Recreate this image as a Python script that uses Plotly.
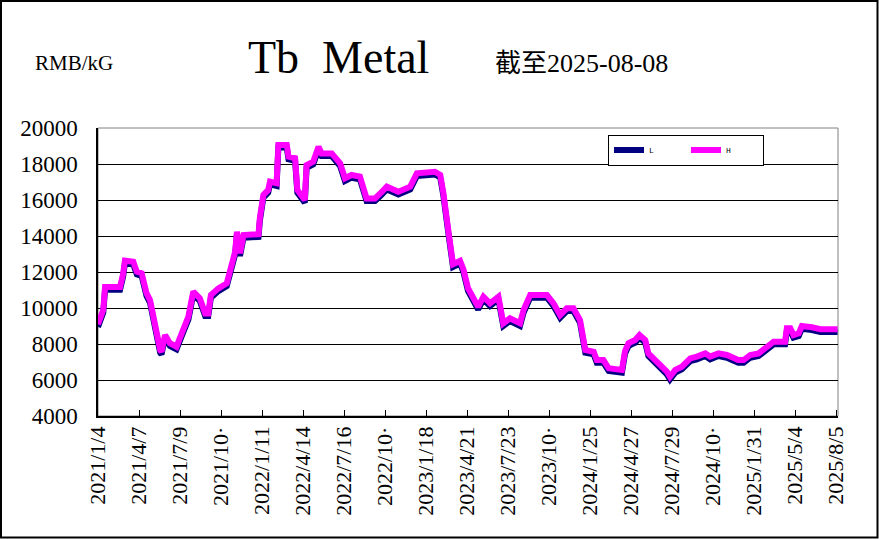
import plotly.graph_objects as go

dates = [
    "2021-01-04", "2021-01-08", "2021-01-16", "2021-01-20", "2021-02-23", "2021-03-02", "2021-03-06", "2021-03-25", "2021-04-02", "2021-04-13",
    "2021-04-24", "2021-05-02", "2021-05-09", "2021-05-17", "2021-05-25", "2021-05-28", "2021-06-05", "2021-06-16", "2021-07-01", "2021-07-16",
    "2021-07-28", "2021-08-08", "2021-08-23", "2021-09-04", "2021-09-11", "2021-09-17", "2021-10-04", "2021-10-23", "2021-10-30", "2021-11-11",
    "2021-11-15", "2021-11-22", "2021-11-30", "2022-01-03", "2022-01-06", "2022-01-14", "2022-01-25", "2022-01-29", "2022-02-13", "2022-02-17",
    "2022-03-08", "2022-03-12", "2022-03-27", "2022-04-01", "2022-04-18", "2022-04-22", "2022-05-07", "2022-05-19", "2022-05-26", "2022-06-18",
    "2022-07-07", "2022-07-18", "2022-08-02", "2022-08-21", "2022-09-05", "2022-09-24", "2022-10-06", "2022-10-21", "2022-11-16", "2022-11-28",
    "2022-12-13", "2022-12-28", "2023-02-07", "2023-02-19", "2023-02-26", "2023-03-10", "2023-03-20", "2023-04-05", "2023-04-13", "2023-04-23",
    "2023-05-05", "2023-05-16", "2023-05-28", "2023-06-12", "2023-07-01", "2023-07-12", "2023-07-27", "2023-08-19", "2023-08-27", "2023-09-11",
    "2023-10-19", "2023-11-03", "2023-11-18", "2023-12-03", "2023-12-18", "2024-01-02", "2024-01-14", "2024-02-02", "2024-02-09", "2024-02-24",
    "2024-03-07", "2024-04-06", "2024-04-13", "2024-04-21", "2024-04-28", "2024-05-06", "2024-05-16", "2024-05-29", "2024-06-05", "2024-06-20",
    "2024-07-06", "2024-07-17", "2024-07-24", "2024-08-05", "2024-08-20", "2024-09-08", "2024-09-23", "2024-10-12", "2024-10-23", "2024-11-11",
    "2024-11-30", "2024-12-26", "2025-01-07", "2025-01-22", "2025-02-10", "2025-03-01", "2025-03-16", "2025-04-11", "2025-04-15", "2025-04-23",
    "2025-04-30", "2025-05-12", "2025-05-19", "2025-06-11", "2025-06-30", "2025-08-08",
]

high = [
    9100, 9400, 9900, 11170, 11170, 11900, 12630, 12570, 12020, 11930,
    10820, 10440, 9520, 8780, 7670, 7570, 8500, 8040, 7850, 8780,
    9520, 10910, 10540, 9700, 9700, 10720, 11090, 11370, 12110, 13130,
    14240, 13040, 14050, 14100, 15000, 16280, 16560, 17020, 16930, 19060,
    19060, 18410, 18320, 16560, 16000, 17940, 18130, 18960, 18590, 18590,
    18040, 17210, 17390, 17300, 16090, 16090, 16370, 16740, 16460, 16560,
    16740, 17480, 17570, 17400, 16420, 14200, 12430, 12620, 12110, 11100,
    10630, 10070, 10630, 10260, 10630, 9150, 9430, 9150, 9890, 10720,
    10720, 10260, 9610, 9980, 9980, 9330, 7670, 7570, 7110, 7110,
    6650, 6560, 7600, 8040, 8130, 8220, 8500, 8220, 7480, 7110,
    6830, 6460, 6180, 6560, 6740, 7200, 7300, 7480, 7300, 7480,
    7390, 7110, 7110, 7390, 7480, 7850, 8130, 8130, 8870, 8870,
    8500, 8590, 9000, 8930, 8820, 8820,
]

low = [
    8950, 9250, 9750, 11020, 11020, 11750, 12480, 12420, 11870, 11780,
    10670, 10290, 9370, 8630, 7520, 7420, 8350, 7890, 7700, 8630,
    9370, 10760, 10390, 9550, 9550, 10570, 10940, 11220, 11960, 12980,
    14090, 12890, 13900, 13950, 14850, 16130, 16410, 16870, 16780, 18910,
    18910, 18260, 18170, 16410, 15850, 17790, 17980, 18810, 18440, 18440,
    17890, 17060, 17240, 17150, 15940, 15940, 16220, 16590, 16310, 16410,
    16590, 17330, 17420, 17250, 16270, 14050, 12280, 12470, 11960, 10950,
    10480, 9920, 10480, 10110, 10480, 9000, 9280, 9000, 9740, 10570,
    10570, 10110, 9460, 9830, 9830, 9180, 7520, 7420, 6960, 6960,
    6500, 6410, 7450, 7890, 7980, 8070, 8350, 8070, 7330, 6960,
    6680, 6310, 6030, 6410, 6590, 7050, 7150, 7330, 7150, 7330,
    7240, 6960, 6960, 7240, 7330, 7700, 7980, 7980, 8720, 8720,
    8350, 8440, 8850, 8780, 8670, 8670,
]

tick_dates = [
    "2021-01-04", "2021-04-07", "2021-07-09", "2021-10-10", "2022-01-11", "2022-04-14", "2022-07-16",
    "2022-10-17", "2023-01-18", "2023-04-21", "2023-07-23", "2023-10-24", "2024-01-25", "2024-04-27",
    "2024-07-29", "2024-10-30", "2025-01-31", "2025-05-04", "2025-08-05",
]
tick_labels = [
    "2021/1/4", "2021/4/7", "2021/7/9", "2021/10·", "2022/1/11", "2022/4/14", "2022/7/16",
    "2022/10·", "2023/1/18", "2023/4/21", "2023/7/23", "2023/10·", "2024/1/25", "2024/4/27",
    "2024/7/29", "2024/10·", "2025/1/31", "2025/5/4", "2025/8/5",
]
y_ticks = [4000, 6000, 8000, 10000, 12000, 14000, 16000, 18000, 20000]

W, H = 879, 539
L_M, R_M, T_M, B_M = 98, 41, 128, 123
PW, PH = W - L_M - R_M, H - T_M - B_M


def px(x):
    return (x - L_M) / PW


def py(y):
    return (H - B_M - y) / PH


SERIF = "Liberation Serif, Times New Roman, serif"

fig = go.Figure()
fig.add_trace(go.Scatter(x=dates, y=low, mode="lines", name="L",
                         line=dict(color="#000080", width=6)))
fig.add_trace(go.Scatter(x=dates, y=high, mode="lines", name="H",
                         line=dict(color="#FF00FF", width=6)))

fig.update_layout(
    width=W, height=H,
    margin=dict(l=L_M, r=R_M, t=T_M, b=B_M),
    paper_bgcolor="white", plot_bgcolor="white",
    showlegend=True,
    legend=dict(
        orientation="h", x=px(608), y=py(150), xanchor="left", yanchor="middle",
        bgcolor="white", bordercolor="black", borderwidth=1,
        font=dict(family="Liberation Mono, monospace", size=8, color="black"),
        entrywidth=32, entrywidthmode="pixels",
        itemwidth=30, tracegroupgap=0,
    ),
    xaxis=dict(
        type="date", range=["2021-01-04", "2025-08-09"],
        tickmode="array", tickvals=tick_dates, ticktext=tick_labels,
        tickangle=-90, ticks="inside", ticklen=6, tickcolor="black",
        showgrid=False, showline=True, linecolor="black", linewidth=1.5,
        tickfont=dict(family=SERIF, size=22, color="black"),
        zeroline=False,
    ),
    yaxis=dict(
        range=[4000, 20000], tickmode="array", tickvals=y_ticks,
        ticktext=[str(v) for v in y_ticks],
        showgrid=True, gridcolor="black", gridwidth=1,
        showline=True, linecolor="black", linewidth=1.5,
        ticks="", ticklabelstandoff=14,
        tickfont=dict(family=SERIF, size=23, color="black"),
        zeroline=False,
    ),
    shapes=[
        dict(type="rect", xref="paper", yref="paper", x0=0, x1=1, y0=0, y1=1,
             line=dict(color="#808080", width=1), layer="below"),
        dict(type="rect", xref="paper", yref="paper",
             x0=px(1), x1=px(877.5), y0=py(537.5), y1=py(1),
             line=dict(color="black", width=2), layer="above"),
    ],
    annotations=[
        dict(text="RMB/kG", xref="paper", yref="paper", x=px(33), y=py(63),
             xanchor="left", yanchor="middle", showarrow=False,
             font=dict(family=SERIF, size=21, color="black")),
        dict(text="Tb  Metal", xref="paper", yref="paper", x=px(338), y=py(57),
             xanchor="center", yanchor="middle", showarrow=False,
             font=dict(family=SERIF, size=46, color="black")),
        dict(text="截至2025-08-08", xref="paper", yref="paper", x=px(493), y=py(63),
             xanchor="left", yanchor="middle", showarrow=False,
             font=dict(family="Liberation Serif, Noto Sans CJK SC, serif", size=26, color="black")),
    ],
)

fig.write_html("out.html", config={"displayModeBar": False},
               post_script="document.body.style.margin='0';document.body.style.padding='0';")
